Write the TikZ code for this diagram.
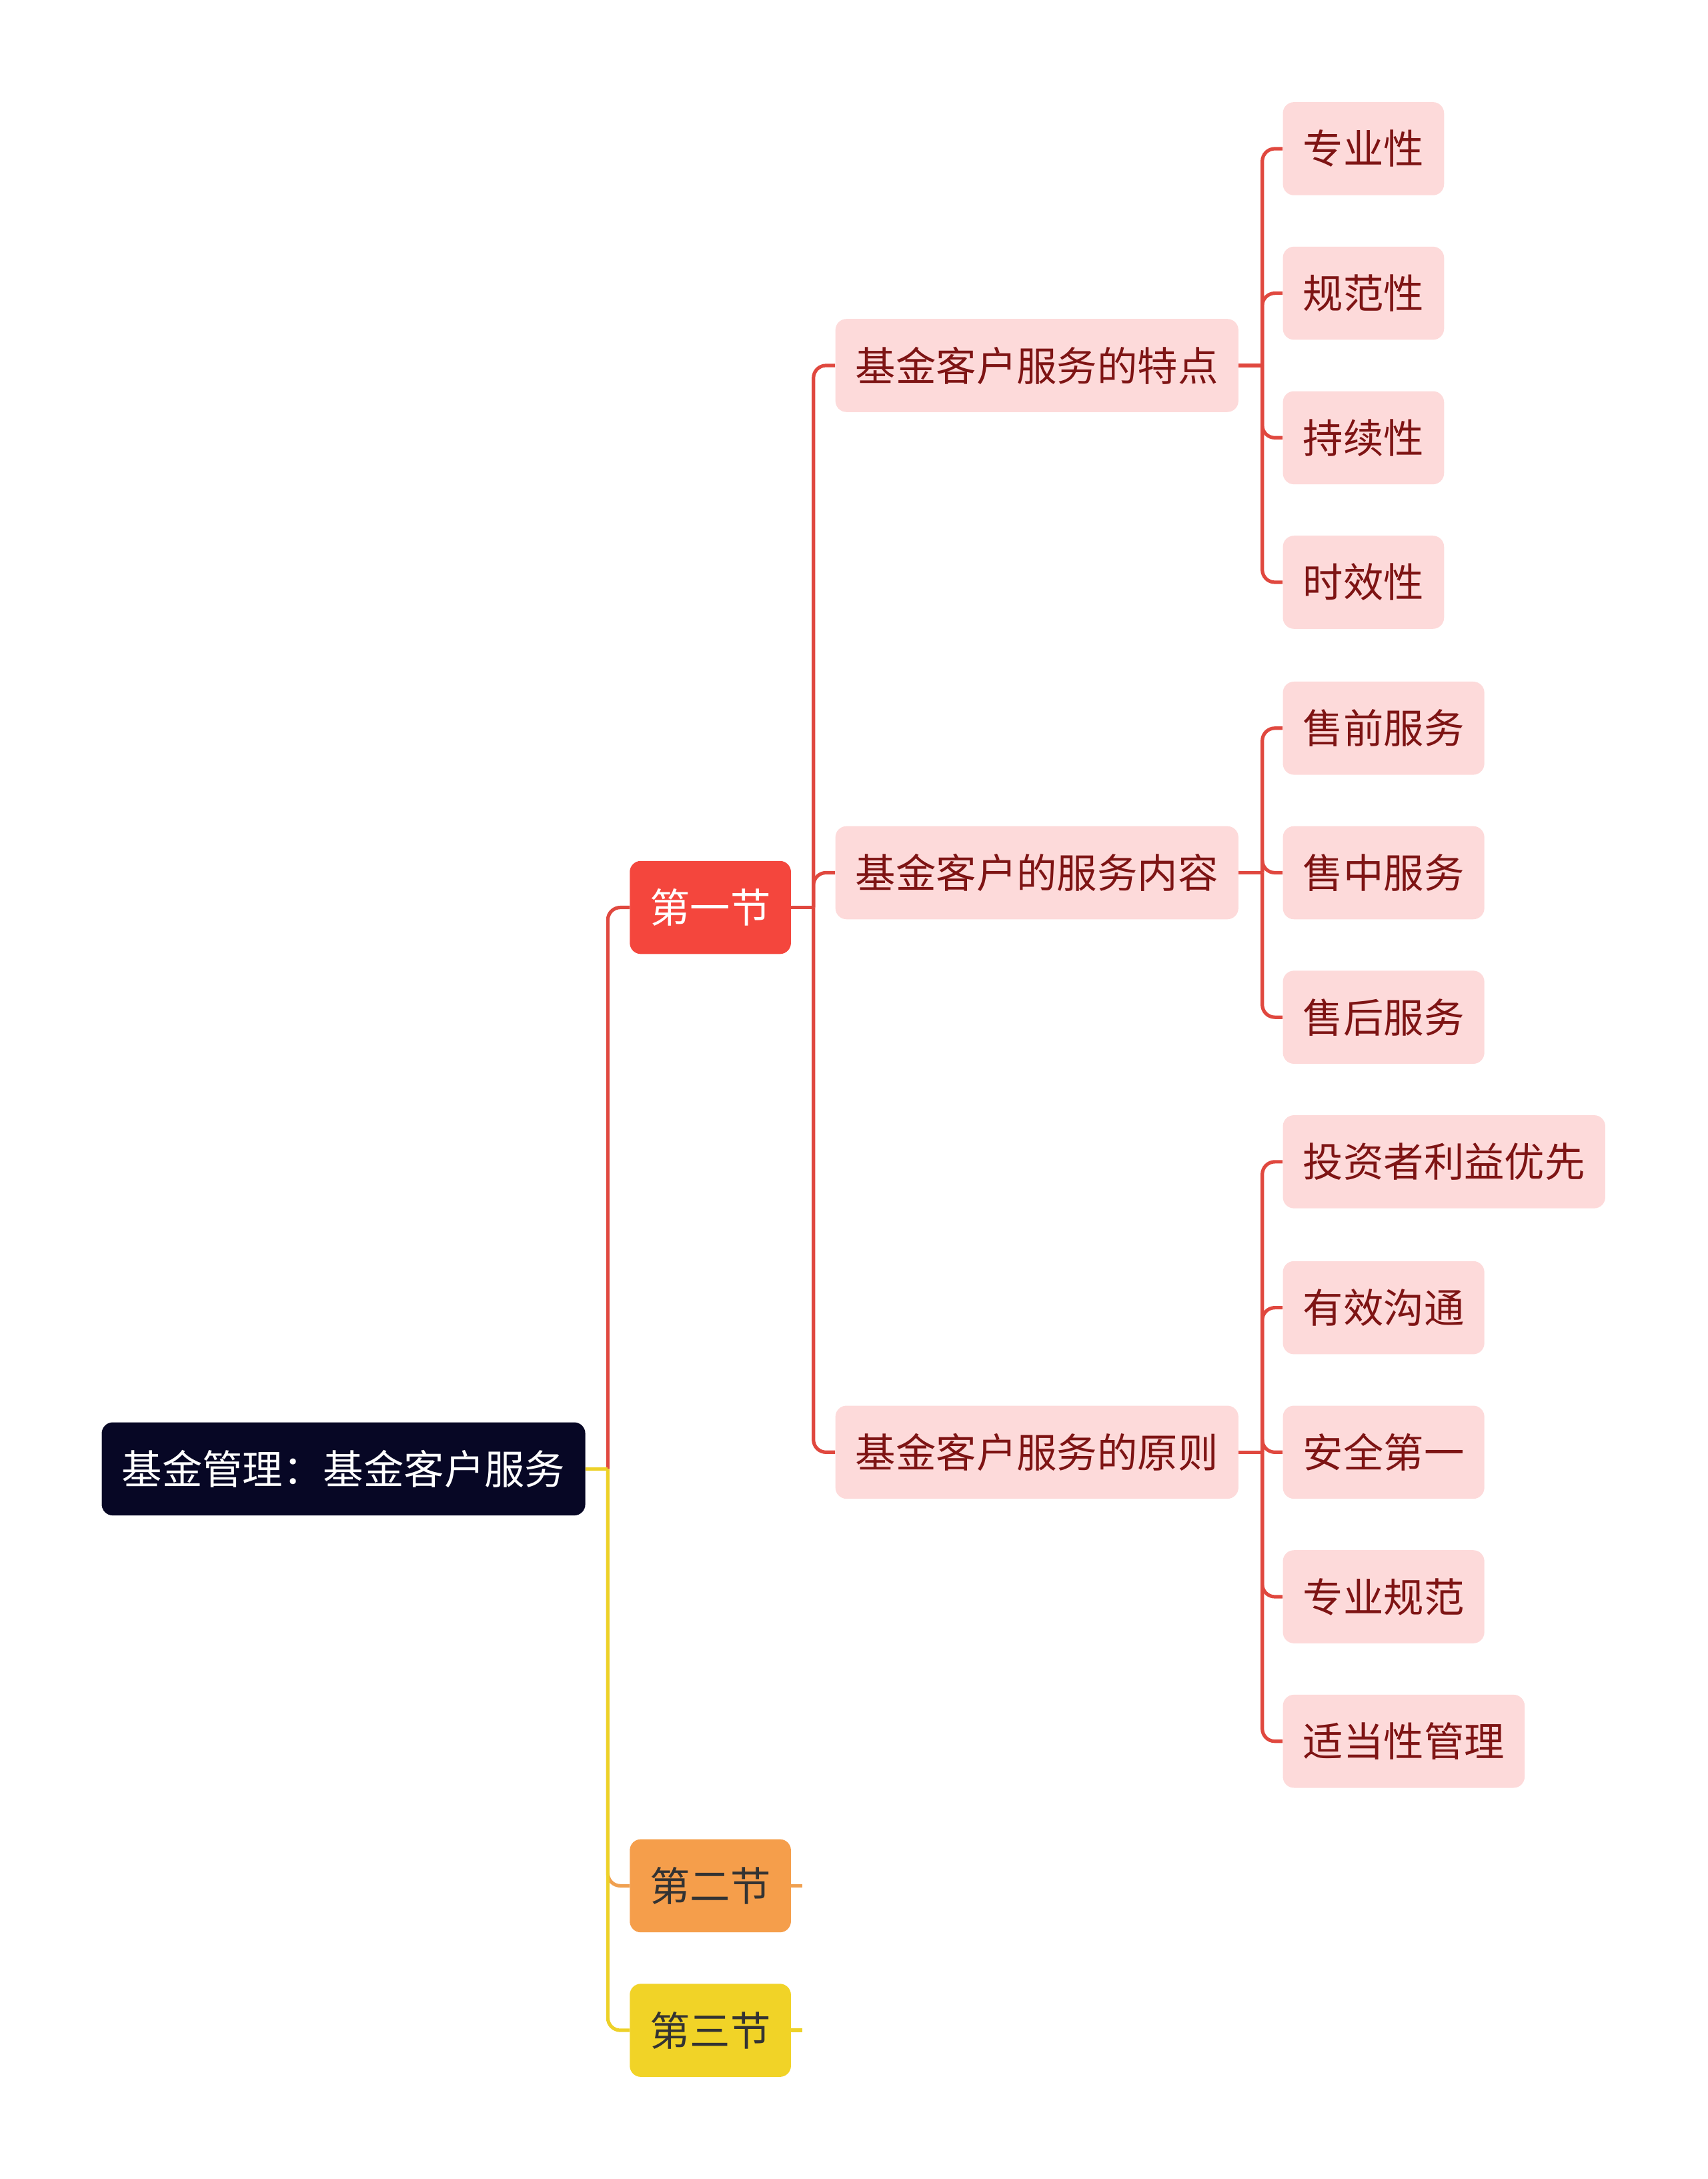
\documentclass[tikz,border=0pt]{standalone}
\usepackage{fontspec}
\setmainfont{Noto Sans CJK SC}
\definecolor{navy}{HTML}{070725}
\definecolor{secred}{HTML}{F4463D}
\definecolor{secorange}{HTML}{F59E4B}
\definecolor{secyellow}{HTML}{F1D327}
\definecolor{pinkbg}{HTML}{FDDADA}
\definecolor{darkred}{HTML}{7E1414}
\definecolor{darkgray}{HTML}{333333}
\definecolor{linered}{HTML}{E0483F}
\definecolor{lineorange}{HTML}{F0A050}
\definecolor{lineyellow}{HTML}{EDD128}
\begin{document}
\begin{tikzpicture}[x=1pt, y=-1pt]
	\tikzstyle{topic}  = [rectangle, rounded corners=8pt, anchor=west, minimum height=67pt, inner xsep=14.5pt, inner ysep=0pt, font=\fontsize{29}{34}\selectfont]
	\tikzstyle{rootbox} = [topic, fill=navy, text=white]
	\tikzstyle{subbox}  = [topic, fill=pinkbg, text=darkred]
	\tikzstyle{link}    = [line width=2.5pt, rounded corners=9pt]

	\useasboundingbox (0,0) rectangle (1229,1568);

	\node[rootbox] (root) at (73,1057) {基金管理：基金客户服务};
	\node[topic, fill=secred, text=white] (s1) at (453,653) {第一节};
	\node[topic, fill=secorange, text=darkgray] (s2) at (453,1357) {第二节};
	\node[topic, fill=secyellow, text=darkgray] (s3) at (453,1461) {第三节};

	\foreach \name/\y/\text in {b1/263/基金客户服务的特点, b2/628/基金客户的服务内容, b3/1045/基金客户服务的原则}
		\node[subbox] (\name) at (601,\y) {\text};

	\foreach \name/\y/\text in {c1/107/专业性, c2/211/规范性, c3/315/持续性, c4/419/时效性,
			d1/524/售前服务, d2/628/售中服务, d3/732/售后服务,
			e1/836/投资者利益优先, e2/941/有效沟通, e3/1045/安全第一, e4/1149/专业规范, e5/1253/适当性管理}
		\node[subbox] (\name) at (923,\y) {\text};

	% junction points
	\coordinate (rootj) at ([xshift=16pt]root.east);
	\coordinate (s1j) at ([xshift=16pt]s1.east);
	\foreach \from in {b1, b2, b3}
		\coordinate (\from j) at ([xshift=17pt]\from.east);

	% root to sections
	\draw[link, linered] (rootj) |- (s1.west);
	\draw[link, lineorange] (rootj) |- (s2.west);
	\draw[link, lineyellow] (rootj) |- (s3.west);
	\draw[link, lineyellow] (root.east) -- (rootj);

	\coordinate (s2end) at ([xshift=8pt]s2.east);
	\coordinate (s3end) at ([xshift=8pt]s3.east);
	\draw[link, lineorange] (s2.east) -- (s2end);
	\draw[link, lineyellow] (s3.east) -- (s3end);

	% section one
	\draw[link, linered] (s1.east) -- (s1j);
	\foreach \to in {b1, b2, b3}
		\draw[link, linered] (s1j) |- (\to.west);

	\foreach \from in {b1, b2, b3}
		\draw[link, linered] (\from.east) -- (\from j);
	\foreach \from/\to in {b1/c1, b1/c2, b1/c3, b1/c4, b2/d1, b2/d2, b2/d3, b3/e1, b3/e2, b3/e3, b3/e4, b3/e5}
		\draw[link, linered] (\from j) |- (\to.west);
\end{tikzpicture}
\end{document}
